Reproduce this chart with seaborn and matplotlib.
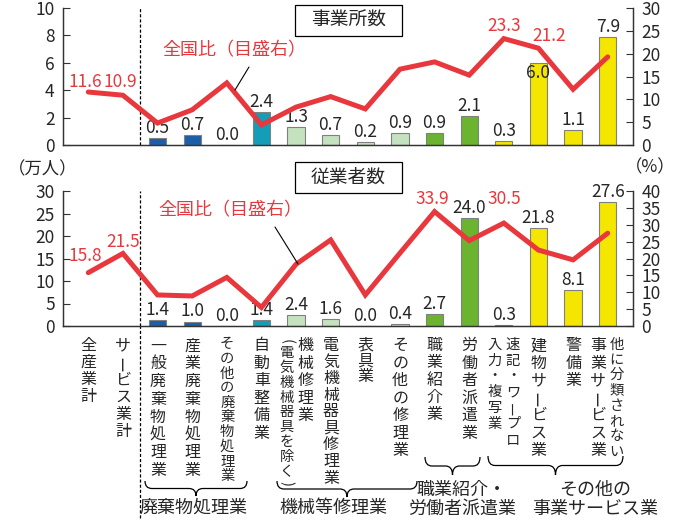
import numpy as np
import pandas as pd
import matplotlib.pyplot as plt
from matplotlib.path import Path
from matplotlib.patches import PathPatch, Rectangle
import seaborn as sns

sns.set_style('white')
plt.rcParams['font.family'] = ['Noto Sans CJK JP', 'DejaVu Sans']

# data
categories = ['全産業計', 'サービス業計', '一般廃棄物処理業', '産業廃棄物処理業',
              'その他の廃棄物処理業', '自動車整備業', '機械修理業（電気機械器具を除く）',
              '電気機械器具修理業', '表具業', 'その他の修理業', '職業紹介業', '労働者派遣業',
              '速記・ワープロ入力・複写業', '建物サービス業', '警備業', '他に分類されない事業サービス業']
groups = ['計', '計', '廃棄物', '廃棄物', '廃棄物', '自動車', '機械', '機械', '機械', '機械',
          '職業', '職業', 'その他', 'その他', 'その他', 'その他']
offices = [np.nan, np.nan, 0.5, 0.7, 0.0, 2.4, 1.3, 0.7, 0.2, 0.9, 0.9, 2.1, 0.3, 6.0, 1.1, 7.9]
offices_share = [11.6, 10.9, 4.8, 7.7, 13.6, 4.4, 8.3, 10.6, 7.9, 16.6, 18.2, 15.3, 23.3, 21.2, 12.2, 19.3]
workers = [np.nan, np.nan, 1.4, 1.0, 0.0, 1.4, 2.4, 1.6, 0.0, 0.4, 2.7, 24.0, 0.3, 21.8, 8.1, 27.6]
workers_share = [15.8, 21.5, 9.2, 8.9, 14.4, 5.5, 18.3, 25.5, 9.2, 21.6, 33.9, 25.3, 30.5, 22.5, 19.6, 27.5]

# vertical label columns (right column first)
label_cols = [['全産業計'], ['サービス業計'], ['一般廃棄物処理業'], ['産業廃棄物処理業'],
              ['その他の廃棄物処理業'], ['自動車整備業'], ['機械修理業', '（電気機械器具を除く）'],
              ['電気機械器具修理業'], ['表具業'], ['その他の修理業'], ['職業紹介業'], ['労働者派遣業'],
              ['速記・ワープロ', '入力・複写業'], ['建物サービス業'], ['警備業'],
              ['他に分類されない', '事業サービス業']]
label_pitch = [[17.0], [17.2], [17.8], [17.8], [14.6], [17.5], [17.5, 14.8], [16.6], [16.0],
               [17.5], [17.2], [17.5], [15.8, 15.8], [17.5], [17.5], [15.3, 17.4]]

group_colors = {'計': '#ffffff', '廃棄物': '#1d5ea8', '自動車': '#139db6', '機械': '#c4e2bf',
                '職業': '#6cb42f', 'その他': '#f5e600'}
red = '#e8383d'

df = pd.DataFrame({'cat': categories, 'group': groups, 'offices': offices,
                   'offices_share': offices_share, 'workers': workers,
                   'workers_share': workers_share})

W, H = 683, 521
fig = plt.figure(figsize=(W / 100, H / 100), dpi=100)


def fx(x, y):
    return x / W, 1 - y / H


def panel(top, bottom, ycol, scol, ymax, ystep, smax, bar_lab_dy, share_labels):
    ax = fig.add_axes([63 / W, 1 - bottom / H, 570 / W, (bottom - top) / H])
    sns.barplot(data=df, x='cat', y=ycol, hue='group', palette=group_colors, order=categories,
                dodge=False, width=0.5, saturation=1, edgecolor='#808080', linewidth=0.8,
                legend=False, ax=ax)
    for i, v in enumerate(df[ycol]):
        if np.isnan(v):
            continue
        ax.annotate(f'{v:.1f}', (i, v), xytext=(0, 1 + bar_lab_dy.get(i, 0)),
                    textcoords='offset pixels', ha='center', va='bottom', fontsize=12.5)
    ax.set_ylim(0, ymax)
    ax.set_yticks(np.arange(0, ymax + 0.1, ystep))
    ax.set_xticks(np.arange(0.5, 15, 1))
    ax.set_xticklabels([])
    ax.set_xlabel('')
    ax.set_ylabel('')
    ax.tick_params(axis='both', direction='in', length=5, width=0.8, labelsize=12.5, pad=6,
                   color='#333333')
    ax.axvline(1.5, color='black', lw=0.9, ls=(0, (2.5, 1.6)), zorder=1)

    ax2 = ax.twinx()
    sns.lineplot(x=np.arange(len(categories)), y=df[scol], color=red, lw=3.6,
                 solid_joinstyle='miter', ax=ax2)
    for i, dx, dy in share_labels:
        ax2.annotate(f'{df[scol][i]:.1f}', (i, df[scol][i]), xytext=(dx, dy),
                     textcoords='offset pixels', ha='center', va='center', color=red,
                     fontsize=12.5)
    ax2.set_ylim(0, smax)
    ax2.set_yticks(np.arange(0, smax + 0.1, 5))
    ax2.set_ylabel('')
    ax2.tick_params(axis='y', direction='in', length=5, width=0.8, labelsize=12.5, pad=6,
                    color='#333333')
    for a in (ax, ax2):
        a.set_xlim(-0.73, 15.73)
        a.spines['top'].set_visible(False)
        for s in ('left', 'right', 'bottom'):
            a.spines[s].set_color('#333333')
            a.spines[s].set_linewidth(0.9)
    return ax, ax2


ax1, ax1r = panel(8, 145, 'offices', 'offices_share', 10, 2, 30, {13: -20},
                  [(0, -3, 10), (1, -3, 13), (12, 0, 13), (13, 11, 12)])
ax2, ax2r = panel(191, 326, 'workers', 'workers_share', 30, 5, 40, {},
                  [(0, -3, 17), (1, 0, 11), (10, -2, 13), (12, 0, 24)])
ax2.axvline(1.5, ymin=-1.42, ymax=0, color='black', lw=0.9, ls=(0, (2.5, 1.6)),
            clip_on=False)

# panel titles
for (x0, y0, x1, y1), t in [((295, 5, 402, 36), '事業所数'), ((295, 162, 402, 193), '従業者数')]:
    fig.patches.append(Rectangle(fx(x0, y1), (x1 - x0) / W, (y1 - y0) / H,
                                 transform=fig.transFigure, fc='white', ec='black', lw=0.9,
                                 zorder=5))
    fig.text(*fx((x0 + x1) / 2, (y0 + y1) / 2), t, ha='center', va='center', fontsize=13.5,
             zorder=6)

# series label with leader lines
for (tx, ty), (lx0, ly0, lx1, ly1) in [((234, 50), (249, 67, 235, 90)),
                                       ((230, 210), (275, 227, 298, 264))]:
    fig.text(*fx(tx, ty), '全国比（目盛右）', ha='center', va='center', color=red, fontsize=13)
    fig.lines.append(plt.Line2D([lx0 / W, lx1 / W], [1 - ly0 / H, 1 - ly1 / H],
                                transform=fig.transFigure, color='black', lw=0.8))

fig.text(*fx(43, 169), '（万人）', ha='center', va='center', fontsize=12.5)
fig.text(*fx(650, 167), '（%）', ha='center', va='center', fontsize=12.5)

# vertical category labels
for i, cols in enumerate(label_cols):
    cx = 88.8 + 34.6 * i
    offs = [0] if len(cols) == 1 else [9, -9.5]
    for col, dx, p in zip(cols, offs, label_pitch[i]):
        fs = 11.5 if p >= 16 else 10.3
        y = 337
        for ch in col:
            if ch in '（）':
                step = p * 0.6
                fig.text(*fx(cx + dx, y + step / 2), ch.replace('（', '(').replace('）', ')'),
                         ha='center', va='center', fontsize=fs, rotation=-90)
            else:
                step = p
                rot = 90 if ch == 'ー' else 0
                fig.text(*fx(cx + dx, y + step / 2), ch, ha='center', va='center',
                         fontsize=fs, rotation=rot)
            y += step


# group braces
def brace(x0, x1, y0, y1, r=7):
    xm, ym = (x0 + x1) / 2, (y0 + y1) / 2
    pts = [(x0, y0), (x0, ym), (x0 + r, ym), (xm - r, ym), (xm, ym), (xm, y1),
           (xm, ym), (xm + r, ym), (x1 - r, ym), (x1, ym), (x1, y0)]
    codes = [Path.MOVETO, Path.CURVE3, Path.CURVE3, Path.LINETO, Path.CURVE3, Path.CURVE3,
             Path.CURVE3, Path.CURVE3, Path.LINETO, Path.CURVE3, Path.CURVE3]
    path = Path([fx(x, y) for x, y in pts], codes)
    fig.patches.append(PathPatch(path, transform=fig.transFigure, fc='none', ec='black',
                                 lw=0.9))


brace(145, 247, 481, 496)
brace(277, 417, 481, 497)
brace(425, 480, 457, 475)
brace(488, 623, 456, 475)

for (x, y), t in [((193, 508), '廃棄物処理業'), ((333, 508), '機械等修理業'),
                  ((461, 490), '職業紹介・'), ((462, 509), '労働者派遣業'),
                  ((595, 490), 'その他の'), ((595, 509), '事業サービス業')]:
    fig.text(*fx(x, y), t, ha='center', va='center', fontsize=13)

fig.savefig('out.png', dpi=100)
